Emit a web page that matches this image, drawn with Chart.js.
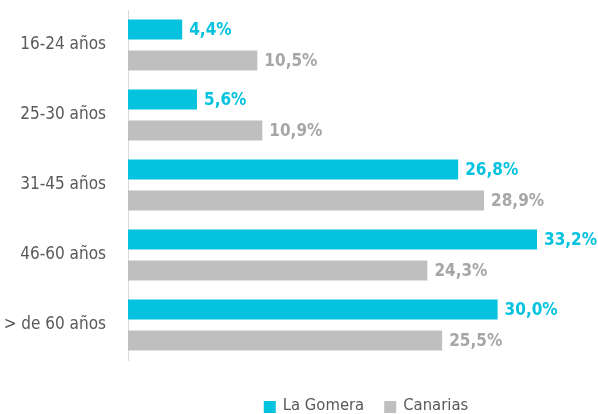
<!DOCTYPE html>
<html><head><meta charset="utf-8">
<script src="https://cdn.jsdelivr.net/npm/chart.js@4/dist/chart.umd.min.js"></script>
<style>html,body{margin:0;padding:0;background:#fff}#wrap{width:598px;height:414px;position:relative}</style>
</head><body><div id="wrap"><canvas id="c" width="598" height="414"></canvas></div>
<script>
const categories = ["16-24 años", "25-30 años", "31-45 años", "46-60 años", "> de 60 años"];
const laGomera = [4.4, 5.6, 26.8, 33.2, 30.0];
const canarias = [10.5, 10.9, 28.9, 24.3, 25.5];
const seriesNames = ["La Gomera", "Canarias"];

const FONT = '"DejaVu Sans Condensed", "Liberation Sans Narrow", sans-serif';
const barColors = ['#05C3DE', '#BFBFBF'];
const labelColors = ['#05C3DE', '#A6A6A6'];

const valueLabels = {
  id: 'valueLabels',
  afterDatasetsDraw(chart) {
    const ctx = chart.ctx;
    ctx.save();
    ctx.font = 'bold 17px ' + FONT;
    ctx.textBaseline = 'middle';
    ctx.textAlign = 'left';
    chart.data.datasets.forEach((ds, i) => {
      const meta = chart.getDatasetMeta(i);
      ctx.fillStyle = labelColors[i];
      meta.data.forEach((bar, j) => {
        const txt = ds.data[j].toFixed(1).replace('.', ',') + '%';
        ctx.fillText(txt, bar.x + 7, bar.y + 1);
      });
    });
    ctx.restore();
  }
};

const customLegend = {
  id: 'customLegend',
  afterDraw(chart) {
    const ctx = chart.ctx;
    ctx.save();
    ctx.font = '16.5px ' + FONT;
    ctx.textBaseline = 'middle';
    ctx.textAlign = 'left';
    const y = 406;
    const box = 12;
    const items = chart.data.datasets.map((d, i) => ({text: d.label, color: barColors[i], w: ctx.measureText(d.label).width}));
    const gap = 7, itemGap = 20;
    let total = 0;
    items.forEach((it, i) => { total += box + gap + it.w + (i < items.length - 1 ? itemGap : 0); });
    let x = 366 - total / 2;
    items.forEach(it => {
      ctx.fillStyle = it.color;
      ctx.fillRect(x, y - box / 2 + 1, box, box);
      x += box + gap;
      ctx.fillStyle = '#595959';
      ctx.fillText(it.text, x, y);
      x += it.w + itemGap;
    });
    ctx.restore();
  }
};

new Chart(document.getElementById('c'), {
  type: 'bar',
  data: {
    labels: categories,
    datasets: [
      {label: seriesNames[0], data: laGomera, backgroundColor: barColors[0], categoryPercentage: 0.886, barPercentage: 0.645},
      {label: seriesNames[1], data: canarias, backgroundColor: barColors[1], categoryPercentage: 0.886, barPercentage: 0.645}
    ]
  },
  options: {
    indexAxis: 'y',
    responsive: false,
    animation: false,
    layout: {padding: {top: 10, right: 8, bottom: 54, left: 0}},
    plugins: {legend: {display: false}, tooltip: {enabled: false}},
    scales: {
      x: {display: false, min: 0, max: 37.5},
      y: {
        afterFit: s => { s.width = 128; s.paddingTop = 0; s.paddingBottom = 0; },
        grid: {display: false, drawTicks: false},
        border: {display: true, color: '#D9D9D9', width: 1},
        ticks: {padding: 22, color: '#595959', font: {family: FONT, size: 17}}
      }
    }
  },
  plugins: [valueLabels, customLegend]
});
</script></body></html>
